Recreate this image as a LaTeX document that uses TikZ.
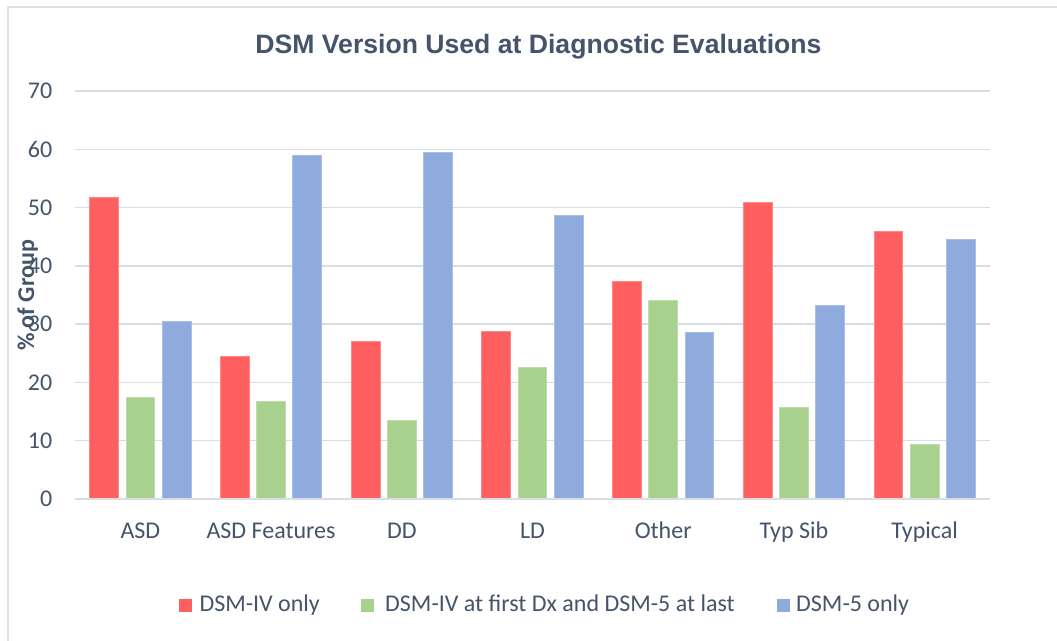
\documentclass[tikz,border=0pt]{standalone}
\usepackage{fontspec}
\setmainfont{Carlito}
\newfontfamily\titlefont{Liberation Sans}
\definecolor{txtc}{HTML}{44546A}
\definecolor{redc}{HTML}{FF5F5F}
\definecolor{greenc}{HTML}{A9D18E}
\definecolor{bluec}{HTML}{8FAADC}
\definecolor{gridc}{HTML}{D9DEE6}
\definecolor{framec}{HTML}{DCE0E5}
\tikzset{
  lab/.style={text=txtc, inner sep=0pt, font=\fontsize{24}{28}\selectfont},
  ticklab/.style={lab, anchor=east},
  gridline/.style={draw=gridc, line width=1.4pt},
  bar/.style={line width=0.8pt},
  lsq/.style={draw=none, minimum size=13pt, inner sep=0pt},
}
\begin{document}
\begin{tikzpicture}[x=1pt,y=-1pt]
\useasboundingbox (0,0) rectangle (1057,640);
\fill[white] (0,0) rectangle (1057,640);
\begin{scope}
\clip (0,0) rectangle (1057,640);
\draw[framec, line width=1.5pt] (8,7) rectangle (1090,670);
\end{scope}
% grid and tick labels
\foreach \v in {0,...,7}{
  \pgfmathsetmacro\gy{499-58.286*\v}
  \coordinate (gl\v) at (75,\gy);
  \coordinate (gr\v) at (990,\gy);
  \draw[gridline] (gl\v) -- (gr\v);
  \pgfmathtruncatemacro\lv{10*\v}
  \node[ticklab] (tk\v) at (52.5,\gy) {\lv};
}
% bars
\foreach \i/\a/\b/\c/\nm in {0/51.8/17.5/30.5/ASD, 1/24.4/16.7/58.9/{ASD Features}, 2/27.0/13.5/59.5/DD, 3/28.7/22.5/48.7/LD, 4/37.3/34.0/28.5/Other, 5/50.9/15.7/33.3/{Typ Sib}, 6/45.9/9.3/44.5/Typical}{
  \pgfmathsetmacro\cx{140.36+130.71*\i}
  \fill[redc, draw=redc!75!white, bar] ({\cx-36.2-14.4},499) rectangle ({\cx-36.2+14.4},{499-5.8286*\a});
  \fill[greenc, draw=greenc!75!white, bar] ({\cx-14.4},499) rectangle ({\cx+14.4},{499-5.8286*\b});
  \fill[bluec, draw=bluec!75!white, bar] ({\cx+36.2-14.4},499) rectangle ({\cx+36.2+14.4},{499-5.8286*\c});
  \node[lab, anchor=base] (cat\i) at (\cx,538.3) {\nm};
}
\draw[gridline] (gl0) -- (gr0);
% title
\node[text=txtc, inner sep=0pt, anchor=base, font=\titlefont\bfseries\fontsize{26.6}{30}\selectfont] (title) at (538.5,53.3) {DSM Version Used at Diagnostic Evaluations};
% y axis title
\node[lab, rotate=90, font=\bfseries\fontsize{24}{28}\selectfont] (ytitle) at (27.7,295.4) {\% of Group};
% legend
\node[lsq, fill=redc] (lsq1) at (185.7,605) {};
\node[lab, anchor=base west] (lt1) at (199.3,611.5) {DSM-IV only};
\node[lsq, fill=greenc] (lsq2) at (367,605) {};
\node[lab, anchor=base west] (lt2) at (385,611.5) {DSM-IV at first Dx and DSM-5 at last};
\node[lsq, fill=bluec] (lsq3) at (783.5,605) {};
\node[lab, anchor=base west] (lt3) at (796,611.5) {DSM-5 only};
\end{tikzpicture}
\end{document}
